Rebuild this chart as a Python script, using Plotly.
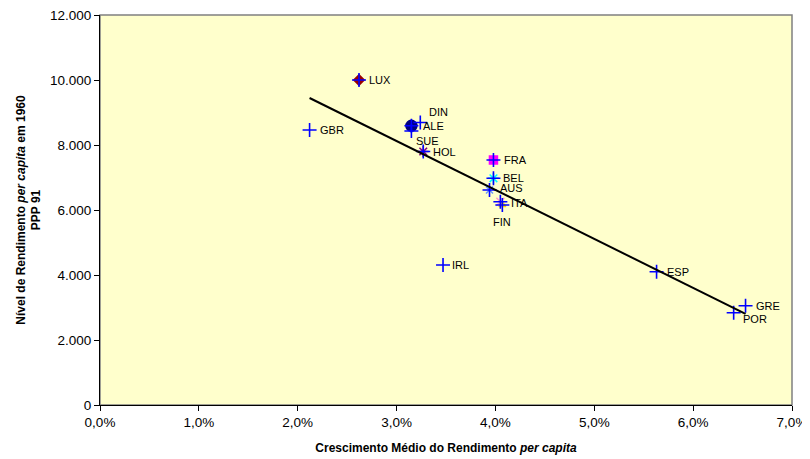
import numpy as np
import plotly.graph_objects as go

countries = ["LUX", "GBR", "DIN", "ALE", "SUE", "HOL", "FRA", "BEL", "AUS", "ITA", "FIN", "IRL", "ESP", "GRE", "POR"]
growth = [0.0262, 0.0212, 0.0324, 0.0315, 0.0315, 0.0327, 0.0398, 0.0398, 0.0394, 0.0405, 0.0407, 0.0347, 0.0563, 0.0653, 0.0641]
income_1960 = [10000, 8460, 8690, 8590, 8430, 7800, 7540, 6975, 6615, 6255, 6155, 4310, 4100, 3055, 2840]

# label offsets in pixels (right, down) from each point
label_dx = [8, 8, 7, 10, 3, 8, 9, 8, 8, 9, -11, 7, 8, 8, 7]
label_dy = [0, 0, -11, 0, 10, 0, 0, 0, -2, 1, 17, 0, 0, 0, 6]

# secondary (Excel-style) markers drawn under the blue crosses
extra_marker = {
    "LUX": ("diamond", "#990000", 8),
    "ALE": ("circle", "#000080", 11),
    "FRA": ("square", "#FF00FF", 8),
    "BEL": ("asterisk-open", "#00FFFF", 9),
    "HOL": ("asterisk-open", "#800080", 9),
    "AUS": ("x-thin-open", "#6699FF", 7),
    "ITA": ("x-thin-open", "#FF99CC", 8),
    "FIN": ("triangle-up", "#FFD700", 6),
}

FONT = "Arial, Liberation Sans, sans-serif"

fig = go.Figure()

for name, (sym, col, sz) in extra_marker.items():
    i = countries.index(name)
    fig.add_trace(go.Scatter(
        x=[growth[i]], y=[income_1960[i]], mode="markers",
        marker=dict(symbol=sym, color=col, size=sz, line=dict(color=col, width=1.5)),
        showlegend=False, hoverinfo="skip"))

fig.add_trace(go.Scatter(
    x=growth, y=income_1960, mode="markers",
    marker=dict(symbol="cross-thin-open", size=10, color="#0000FF", line=dict(color="#0000FF", width=1.6)),
    showlegend=False))

for c, gx_, gy_, dx, dy in zip(countries, growth, income_1960, label_dx, label_dy):
    fig.add_annotation(x=gx_, y=gy_, text=c, showarrow=False, xanchor="left", yanchor="middle",
                       xshift=dx, yshift=-dy,
                       font=dict(family=FONT, size=11, color="#000000"))

# linear trend line (least squares) over the range of the data
gx = np.array(growth)
gy = np.array(income_1960)
slope, intercept = np.polyfit(gx, gy, 1)
tx = np.array([gx.min(), gx.max()])
fig.add_trace(go.Scatter(x=tx, y=slope * tx + intercept, mode="lines",
                         line=dict(color="#000000", width=2), showlegend=False, hoverinfo="skip"))

fig.add_shape(type="rect", xref="paper", yref="paper", x0=0, y0=0, x1=1, y1=1,
              line=dict(color="#808080", width=1.5), layer="below")

# page body has an 8px margin, so the figure is 8px smaller on each axis
fig.update_layout(
    width=802, height=451,
    margin=dict(l=92, r=18, t=7, b=54),
    paper_bgcolor="#FFFFFF", plot_bgcolor="#FFFFCC",
    separators=",.",
    font=dict(family=FONT, size=13.5, color="#000000"),
    xaxis=dict(range=[0, 0.07], dtick=0.01, tick0=0, tickformat=".1%",
               showgrid=False, zeroline=False, showline=True, linecolor="#000000", linewidth=1,
               ticks="outside", ticklen=5, tickcolor="#000000", ticklabeloverflow="allow",
               automargin="bottom",
               title=dict(text="<b>Crescimento Médio do Rendimento <i>per capita</i></b>",
                          font=dict(size=12, family=FONT), standoff=14)),
    yaxis=dict(range=[0, 12000], dtick=2000, tickformat=",d",
               showgrid=False, zeroline=False, showline=True, linecolor="#000000", linewidth=1,
               ticks="outside", ticklen=5, tickcolor="#000000", ticklabeloverflow="allow",
               automargin="left",
               title=dict(text="<b>Nível de Rendimento <i>per capita</i> em 1960<br>PPP 91</b>",
                          font=dict(size=12, family=FONT), standoff=6)),
)

fig.write_html("out.html")
